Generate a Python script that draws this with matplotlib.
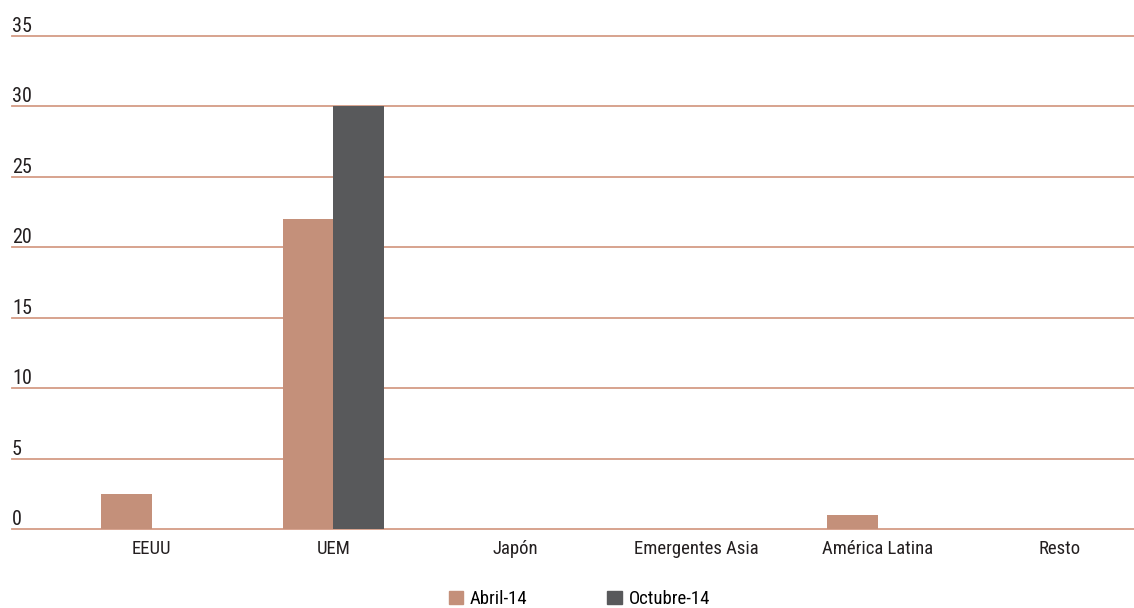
import matplotlib
matplotlib.use("Agg")
import matplotlib.pyplot as plt
import matplotlib.transforms as mtransforms
from matplotlib.patches import Patch
import numpy as np

plt.rcParams['font.family'] = ['Liberation Sans Narrow', 'Roboto Condensed', 'Roboto', 'DejaVu Sans']

# datos
categorias = ["EEUU", "UEM", "Japón", "Emergentes Asia", "América Latina", "Resto"]
abril_14 = [2.5, 22, 0, 0, 1, 0]
octubre_14 = [0, 30, 0, 0, 0, 0]
series = ["Abril-14", "Octubre-14"]
y_ticks = [0, 5, 10, 15, 20, 25, 30, 35]

c_abril = "#c4907a"
c_oct = "#58595b"
c_grid = "#d49c86"
c_text = "#231f20"

fig = plt.figure(figsize=(11.34, 6.08), dpi=100)
ax = fig.add_axes([12 / 1134, 1 - 529 / 608, 1 - 12 / 1134, (529 - 36) / 608])

x = np.arange(len(categorias))
w = 0.28
ax.bar(x - w / 2, abril_14, w, color=c_abril, zorder=3)
ax.bar(x + w / 2, octubre_14, w, color=c_oct, zorder=3)

ax.set_ylim(0, 35)
ax.set_xlim(-0.77, 5.41)

# líneas horizontales y etiquetas del eje y
trans = mtransforms.blended_transform_factory(ax.transAxes, ax.transData)
trans = trans + mtransforms.ScaledTranslation(0, 4 / 100, fig.dpi_scale_trans)
for v in y_ticks:
    ax.axhline(v, color=c_grid, lw=1.3, zorder=1, clip_on=False)
    ax.text(0, v, str(v), transform=trans, ha="left", va="baseline",
            fontsize=14.5, color=c_text)

ax.set_yticks([])
ax.set_xticks(x)
ax.set_xticklabels(categorias, fontsize=13.5, color=c_text)
ax.tick_params(axis="x", length=0, pad=8)
for s in ax.spines.values():
    s.set_visible(False)

handles = [Patch(color=c_abril, label=series[0]), Patch(color=c_oct, label=series[1])]
fig.legend(handles=handles, loc="lower center", bbox_to_anchor=(0.511, -0.028),
           ncol=2, frameon=False, fontsize=13.5, handlelength=0.75, handleheight=0.75,
           handletextpad=0.4, columnspacing=4.25)

fig.savefig("out.png", dpi=100)
